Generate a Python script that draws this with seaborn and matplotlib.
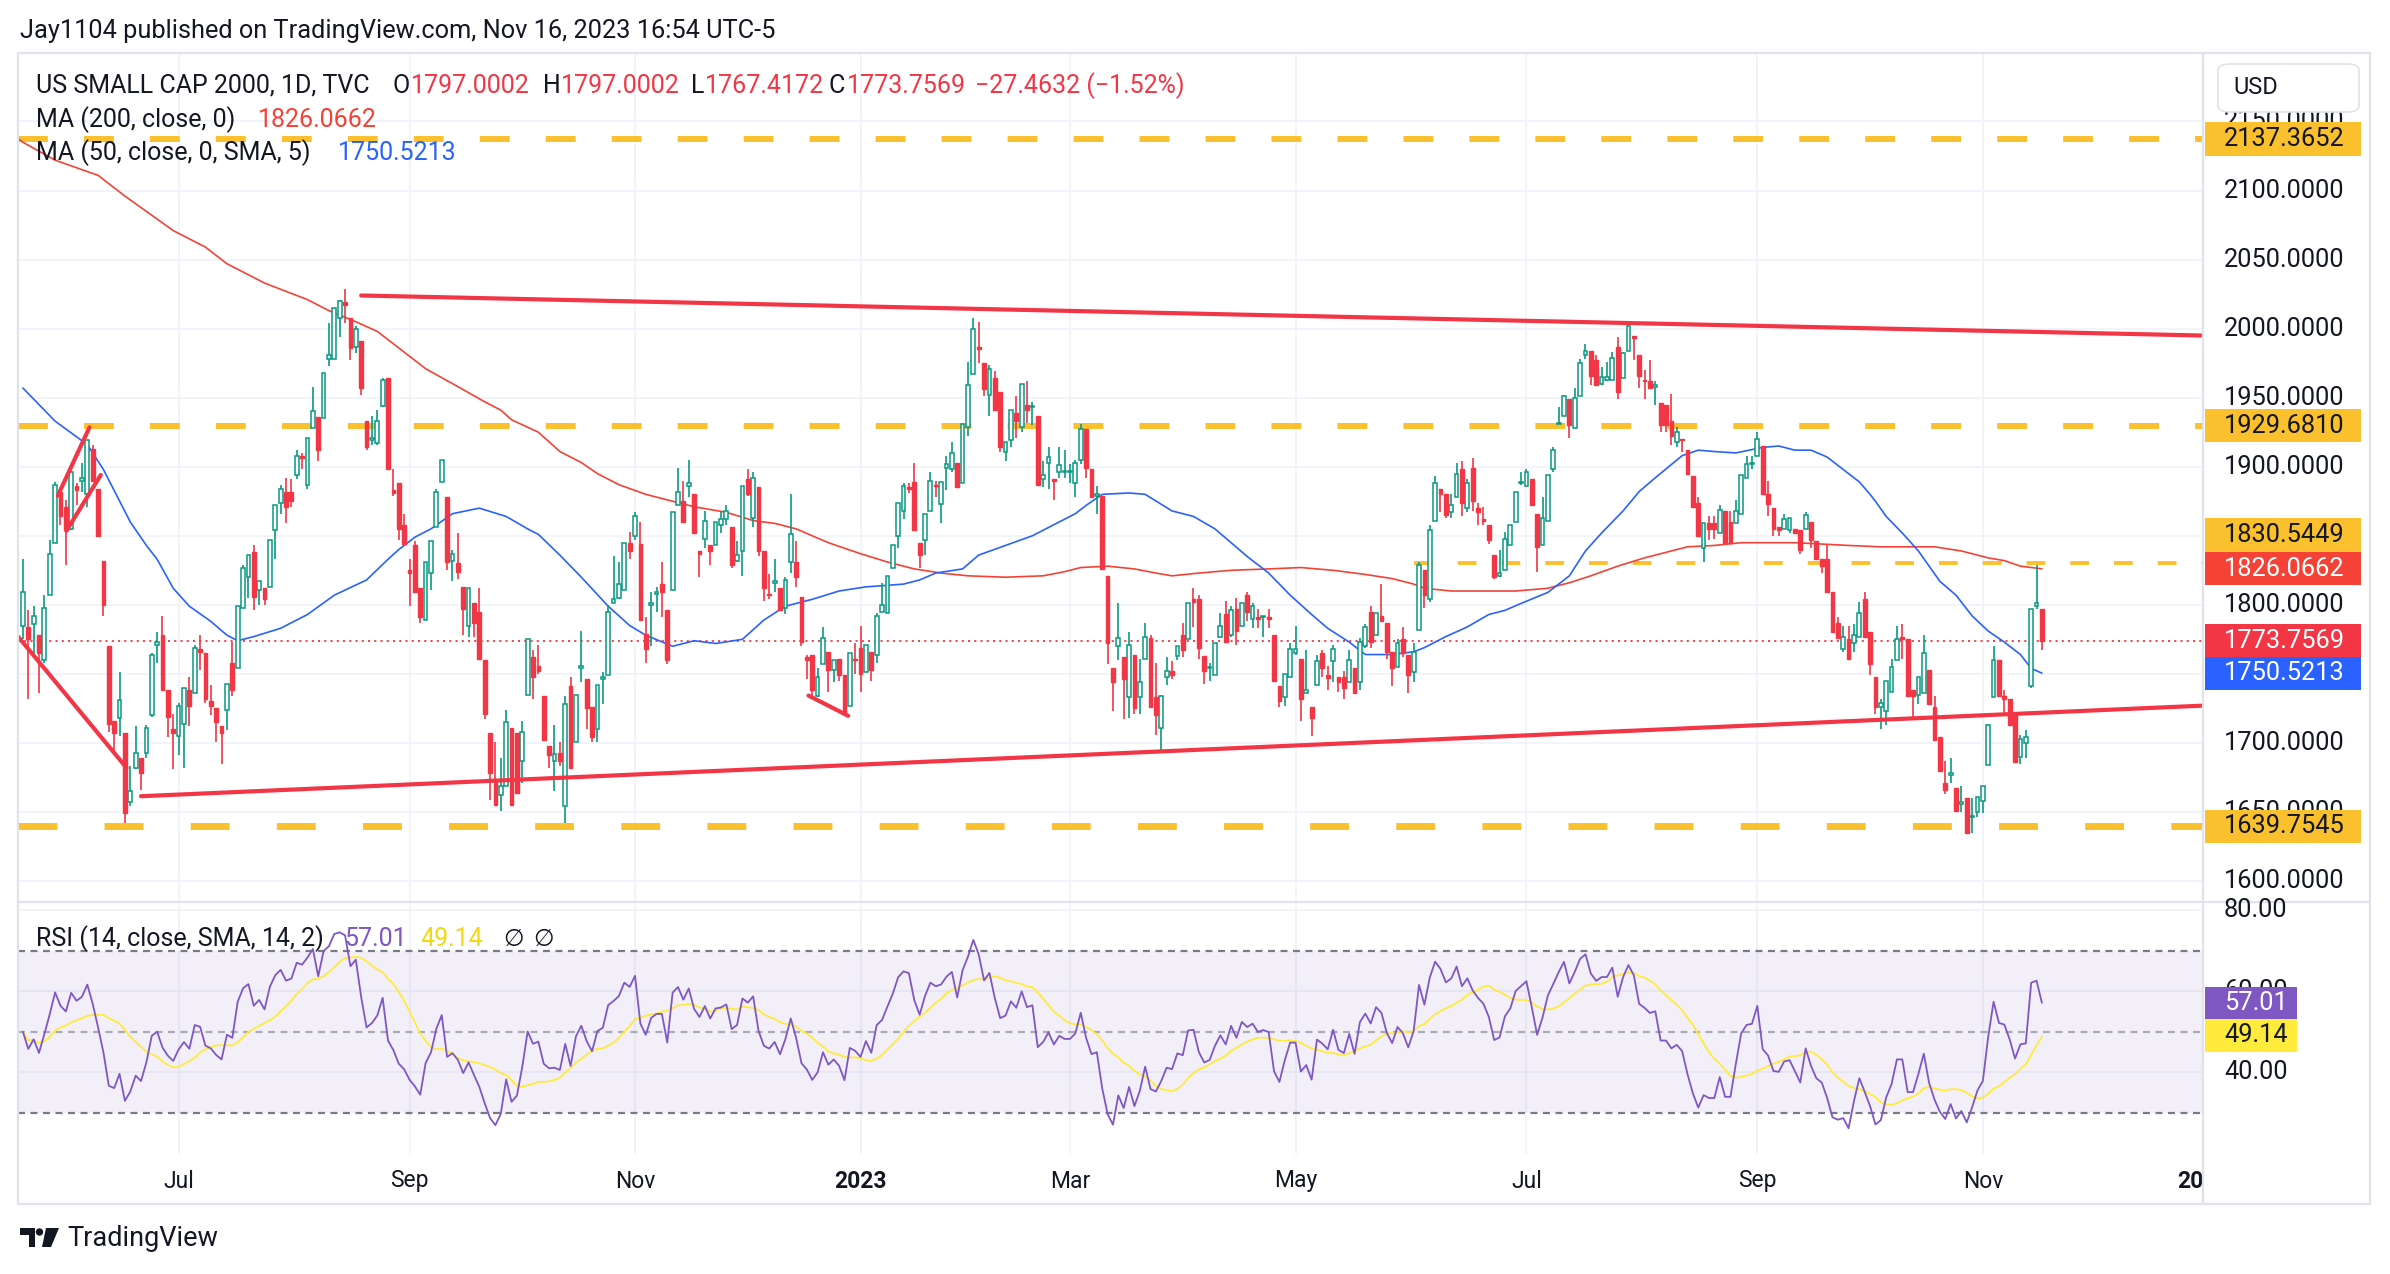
import numpy as np
import pandas as pd
import seaborn as sns
import matplotlib.pyplot as plt
import matplotlib.transforms as mtransforms
from matplotlib.patches import Rectangle, FancyBboxPatch, Polygon, Ellipse
from matplotlib.lines import Line2D

# ---- daily candles, US SMALL CAP 2000 (TVC) ----
OPEN = [
    1785, 1784, 1786, 1778, 1760, 1807, 1845, 1882, 1871, 1855,
    1886, 1890, 1880, 1913, 1884, 1832, 1770, 1716, 1718, 1707,
    1657, 1682, 1689, 1693, 1720, 1771, 1778, 1738, 1710, 1705,
    1714, 1738, 1736, 1768, 1765, 1730, 1725, 1712, 1724, 1758,
    1754, 1798, 1820, 1838, 1811, 1812, 1813, 1854, 1874, 1882,
    1882, 1894, 1908, 1887, 1928, 1936, 1935, 1978, 1978, 2008,
    2019, 2008, 1987, 1991, 1933, 1919, 1917, 1944, 1964, 1883,
    1888, 1858, 1825, 1843, 1812, 1789, 1823, 1856, 1889, 1878,
    1832, 1830, 1813, 1785, 1801, 1795, 1760, 1707, 1673, 1662,
    1669, 1711, 1707, 1687, 1735, 1762, 1756, 1734, 1698, 1687,
    1693, 1654, 1741, 1701, 1754, 1746, 1726, 1710, 1746, 1749,
    1801, 1805, 1811, 1845, 1850, 1844, 1779, 1800, 1808, 1815,
    1796, 1811, 1872, 1875, 1886, 1880, 1839, 1848, 1843, 1843,
    1858, 1862, 1856, 1832, 1839, 1891, 1863, 1885, 1839, 1808,
    1816, 1812, 1798, 1831, 1831, 1806, 1762, 1764, 1734, 1757,
    1766, 1753, 1761, 1749, 1727, 1761, 1769, 1751, 1766, 1764,
    1795, 1794, 1827, 1850, 1868, 1885, 1889, 1845, 1847, 1868,
    1887, 1873, 1899, 1898, 1903, 1888, 1929, 1967, 1987, 1975,
    1952, 1964, 1954, 1911, 1919, 1939, 1929, 1945, 1943, 1937,
    1891, 1903, 1891, 1896, 1896, 1896, 1888, 1905, 1927, 1898,
    1879, 1879, 1821, 1754, 1770, 1762, 1733, 1764, 1733, 1761,
    1776, 1733, 1711, 1748, 1752, 1763, 1778, 1775, 1804, 1804,
    1763, 1754, 1749, 1777, 1793, 1778, 1797, 1785, 1807, 1790,
    1791, 1791, 1791, 1778, 1741, 1733, 1748, 1765, 1761, 1736,
    1726, 1742, 1765, 1749, 1759, 1748, 1748, 1744, 1754, 1744,
    1770, 1795, 1778, 1792, 1787, 1766, 1755, 1775, 1764, 1751,
    1782, 1825, 1804, 1861, 1884, 1880, 1867, 1878, 1898, 1870,
    1899, 1870, 1862, 1858, 1836, 1821, 1825, 1843, 1860, 1888,
    1886, 1891, 1866, 1843, 1861, 1898, 1931, 1937, 1949, 1928,
    1951, 1981, 1984, 1977, 1960, 1963, 1963, 1987, 1964, 1984,
    1995, 1981, 1963, 1962, 1958, 1946, 1945, 1933, 1918, 1920,
    1912, 1893, 1874, 1841, 1859, 1859, 1852, 1868, 1860, 1859,
    1866, 1892, 1902, 1908, 1915, 1880, 1870, 1856, 1855, 1854,
    1855, 1854, 1855, 1860, 1846, 1833, 1833, 1809, 1787, 1768,
    1775, 1772, 1777, 1804, 1780, 1748, 1726, 1723, 1737, 1760,
    1777, 1775, 1738, 1735, 1736, 1753, 1726, 1704, 1671, 1677,
    1667, 1656, 1660, 1646, 1650, 1658, 1684, 1733, 1760, 1734,
    1732, 1722, 1690, 1700, 1741, 1799, 1797.0002,
]
HIGH = [
    1833, 1796, 1799, 1778, 1807, 1847, 1889, 1882, 1876, 1897,
    1888, 1903, 1919, 1916, 1884, 1832, 1770, 1716, 1751, 1707,
    1683, 1712, 1689, 1713, 1765, 1780, 1792, 1738, 1721, 1729,
    1740, 1748, 1771, 1778, 1765, 1742, 1725, 1712, 1743, 1773,
    1799, 1829, 1836, 1843, 1817, 1812, 1847, 1872, 1887, 1892,
    1891, 1912, 1910, 1921, 1958, 1936, 1968, 2004, 2015, 2021,
    2029, 2008, 2002, 1991, 1933, 1937, 1941, 1964, 1964, 1898,
    1888, 1866, 1833, 1846, 1812, 1831, 1846, 1884, 1905, 1878,
    1840, 1852, 1813, 1812, 1801, 1812, 1760, 1707, 1701, 1689,
    1724, 1711, 1707, 1716, 1775, 1767, 1771, 1734, 1698, 1713,
    1701, 1734, 1748, 1735, 1781, 1746, 1726, 1742, 1751, 1800,
    1835, 1831, 1845, 1853, 1867, 1860, 1791, 1809, 1813, 1831,
    1796, 1867, 1899, 1890, 1905, 1880, 1839, 1868, 1843, 1860,
    1868, 1872, 1856, 1846, 1886, 1898, 1896, 1885, 1839, 1822,
    1833, 1812, 1820, 1880, 1846, 1806, 1764, 1764, 1754, 1784,
    1766, 1760, 1761, 1749, 1765, 1772, 1785, 1771, 1766, 1794,
    1816, 1821, 1843, 1874, 1888, 1888, 1903, 1845, 1866, 1896,
    1890, 1889, 1908, 1918, 1903, 1931, 1976, 2008, 2005, 1975,
    1974, 1969, 1954, 1918, 1941, 1951, 1960, 1962, 1947, 1937,
    1904, 1914, 1891, 1914, 1912, 1902, 1905, 1931, 1927, 1898,
    1886, 1879, 1821, 1754, 1801, 1762, 1780, 1764, 1761, 1787,
    1778, 1758, 1735, 1762, 1759, 1770, 1787, 1801, 1812, 1807,
    1763, 1758, 1772, 1794, 1803, 1799, 1805, 1801, 1809, 1801,
    1797, 1792, 1797, 1778, 1741, 1750, 1772, 1785, 1761, 1767,
    1726, 1764, 1767, 1756, 1771, 1748, 1752, 1767, 1754, 1776,
    1786, 1799, 1794, 1815, 1787, 1766, 1775, 1784, 1764, 1772,
    1831, 1825, 1858, 1893, 1884, 1880, 1880, 1903, 1904, 1891,
    1906, 1874, 1871, 1858, 1836, 1840, 1853, 1858, 1882, 1896,
    1898, 1891, 1866, 1878, 1894, 1914, 1943, 1952, 1949, 1957,
    1978, 1989, 1984, 1981, 1972, 1976, 1983, 1994, 1983, 2003,
    1995, 1981, 1970, 1977, 1962, 1946, 1945, 1953, 1929, 1920,
    1912, 1893, 1878, 1859, 1864, 1864, 1872, 1868, 1868, 1876,
    1894, 1908, 1908, 1925, 1915, 1890, 1870, 1856, 1866, 1863,
    1855, 1854, 1867, 1860, 1846, 1833, 1843, 1809, 1791, 1785,
    1785, 1786, 1802, 1809, 1780, 1748, 1732, 1745, 1761, 1785,
    1786, 1775, 1738, 1748, 1778, 1753, 1734, 1704, 1687, 1689,
    1667, 1669, 1660, 1660, 1661, 1669, 1714, 1770, 1760, 1738,
    1732, 1722, 1706, 1709, 1797, 1829, 1797.0002,
]
LOW = [
    1775, 1732, 1764, 1736, 1758, 1807, 1845, 1858, 1829, 1854,
    1872, 1882, 1871, 1890, 1850, 1792, 1708, 1693, 1705, 1642,
    1654, 1681, 1666, 1689, 1719, 1758, 1738, 1704, 1681, 1691,
    1682, 1712, 1736, 1753, 1729, 1720, 1701, 1685, 1709, 1734,
    1754, 1798, 1805, 1796, 1800, 1800, 1813, 1833, 1866, 1859,
    1871, 1891, 1898, 1884, 1928, 1904, 1935, 1973, 1978, 1994,
    2004, 1977, 1982, 1952, 1912, 1916, 1916, 1943, 1898, 1879,
    1847, 1844, 1799, 1809, 1787, 1789, 1811, 1856, 1889, 1825,
    1817, 1819, 1778, 1777, 1777, 1761, 1717, 1659, 1654, 1651,
    1669, 1655, 1664, 1671, 1735, 1732, 1750, 1702, 1682, 1665,
    1683, 1642, 1682, 1701, 1744, 1710, 1701, 1701, 1728, 1749,
    1801, 1804, 1811, 1833, 1847, 1789, 1758, 1770, 1795, 1791,
    1757, 1811, 1872, 1860, 1878, 1852, 1820, 1841, 1829, 1843,
    1852, 1858, 1827, 1831, 1821, 1879, 1856, 1835, 1803, 1804,
    1809, 1796, 1793, 1823, 1813, 1770, 1746, 1734, 1733, 1757,
    1737, 1744, 1745, 1722, 1727, 1750, 1737, 1751, 1745, 1758,
    1795, 1794, 1827, 1841, 1862, 1881, 1854, 1827, 1836, 1868,
    1878, 1859, 1883, 1896, 1885, 1888, 1922, 1967, 1975, 1951,
    1937, 1941, 1911, 1904, 1914, 1921, 1925, 1932, 1930, 1887,
    1885, 1884, 1876, 1892, 1892, 1888, 1878, 1902, 1892, 1878,
    1866, 1826, 1757, 1723, 1760, 1717, 1718, 1721, 1721, 1761,
    1726, 1706, 1695, 1742, 1746, 1760, 1762, 1775, 1784, 1761,
    1743, 1745, 1749, 1776, 1773, 1777, 1771, 1785, 1788, 1783,
    1783, 1777, 1783, 1745, 1726, 1727, 1748, 1764, 1716, 1736,
    1705, 1742, 1748, 1738, 1744, 1737, 1732, 1744, 1736, 1738,
    1769, 1769, 1778, 1788, 1761, 1741, 1755, 1762, 1736, 1744,
    1782, 1798, 1802, 1861, 1867, 1863, 1863, 1878, 1864, 1867,
    1868, 1858, 1858, 1844, 1819, 1820, 1825, 1843, 1860, 1887,
    1886, 1872, 1824, 1843, 1861, 1896, 1931, 1937, 1921, 1928,
    1951, 1978, 1959, 1959, 1959, 1962, 1963, 1949, 1964, 1984,
    1977, 1957, 1949, 1956, 1945, 1925, 1925, 1916, 1914, 1911,
    1895, 1871, 1850, 1831, 1847, 1848, 1852, 1845, 1845, 1859,
    1866, 1892, 1898, 1908, 1880, 1864, 1850, 1850, 1855, 1852,
    1852, 1837, 1855, 1841, 1833, 1823, 1809, 1780, 1775, 1766,
    1761, 1766, 1777, 1777, 1749, 1721, 1710, 1713, 1737, 1760,
    1761, 1734, 1717, 1728, 1736, 1728, 1702, 1680, 1663, 1671,
    1650, 1650, 1634, 1635, 1646, 1649, 1684, 1733, 1734, 1722,
    1713, 1686, 1685, 1689, 1740, 1797, 1767.4172,
]
CLOSE = [
    1809, 1775, 1792, 1765, 1798, 1837, 1887, 1864, 1854, 1896,
    1883, 1892, 1919, 1890, 1850, 1800, 1714, 1707, 1731, 1649,
    1665, 1693, 1678, 1711, 1764, 1773, 1738, 1719, 1707, 1727,
    1740, 1727, 1769, 1766, 1732, 1727, 1715, 1707, 1743, 1738,
    1799, 1827, 1836, 1806, 1817, 1804, 1847, 1872, 1884, 1871,
    1875, 1908, 1906, 1921, 1940, 1912, 1968, 1981, 2015, 2020,
    2017, 1986, 2000, 1957, 1914, 1921, 1933, 1963, 1898, 1881,
    1855, 1844, 1823, 1809, 1791, 1831, 1846, 1882, 1905, 1831,
    1837, 1824, 1797, 1812, 1787, 1761, 1721, 1678, 1655, 1669,
    1715, 1655, 1664, 1708, 1775, 1748, 1752, 1702, 1691, 1692,
    1687, 1728, 1682, 1735, 1756, 1725, 1704, 1742, 1748, 1795,
    1804, 1815, 1845, 1839, 1864, 1789, 1768, 1801, 1809, 1809,
    1760, 1867, 1882, 1860, 1888, 1852, 1837, 1861, 1839, 1860,
    1862, 1868, 1829, 1836, 1886, 1880, 1892, 1839, 1812, 1807,
    1817, 1796, 1818, 1851, 1820, 1773, 1760, 1738, 1748, 1776,
    1753, 1760, 1749, 1722, 1765, 1760, 1750, 1771, 1753, 1792,
    1800, 1821, 1843, 1874, 1886, 1884, 1854, 1836, 1866, 1890,
    1886, 1889, 1902, 1910, 1885, 1931, 1959, 2000, 1985, 1956,
    1971, 1941, 1914, 1918, 1941, 1933, 1960, 1941, 1944, 1887,
    1894, 1907, 1890, 1901, 1897, 1897, 1903, 1927, 1899, 1878,
    1880, 1826, 1772, 1744, 1776, 1746, 1771, 1725, 1744, 1777,
    1726, 1720, 1734, 1752, 1749, 1770, 1767, 1801, 1802, 1769,
    1752, 1755, 1772, 1785, 1773, 1796, 1781, 1801, 1795, 1799,
    1790, 1792, 1790, 1745, 1730, 1750, 1768, 1768, 1732, 1738,
    1718, 1759, 1754, 1747, 1768, 1744, 1740, 1760, 1736, 1773,
    1784, 1773, 1794, 1788, 1766, 1754, 1772, 1765, 1749, 1766,
    1829, 1807, 1854, 1888, 1880, 1865, 1872, 1895, 1874, 1888,
    1875, 1867, 1861, 1847, 1820, 1823, 1848, 1858, 1882, 1889,
    1896, 1872, 1842, 1863, 1894, 1912, 1932, 1951, 1930, 1950,
    1975, 1984, 1966, 1959, 1965, 1965, 1979, 1954, 1982, 2002,
    1993, 1966, 1962, 1957, 1959, 1930, 1930, 1922, 1925, 1919,
    1895, 1871, 1850, 1859, 1855, 1855, 1869, 1845, 1845, 1868,
    1894, 1902, 1903, 1920, 1880, 1873, 1855, 1854, 1862, 1863,
    1852, 1840, 1865, 1847, 1833, 1828, 1809, 1780, 1776, 1777,
    1761, 1778, 1794, 1777, 1757, 1726, 1729, 1745, 1755, 1775,
    1775, 1734, 1734, 1748, 1765, 1728, 1702, 1680, 1666, 1678,
    1651, 1657, 1635, 1647, 1661, 1669, 1713, 1760, 1734, 1732,
    1713, 1686, 1703, 1704, 1797, 1801.2201, 1773.7569,
]
LAST_DATE = "2023-11-16"
HOLIDAYS = ["2022-05-30", "2022-06-20", "2022-07-04", "2022-09-05", "2022-11-24",
            "2022-12-26", "2023-01-02", "2023-01-16", "2023-02-20", "2023-04-07",
            "2023-05-29", "2023-06-19", "2023-07-04", "2023-09-04", "2023-11-23",
            "2023-12-25", "2024-01-01"]

# moving averages as plotted (bar index, value)
MA200_IDX = [-1, 0, 6, 14, 19, 28, 34, 38, 45, 53, 57, 62, 66, 70, 75, 81, 86, 89, 91, 96,
             100, 104, 107, 111, 116, 120, 125, 131, 136, 140, 144, 150, 156, 161, 166, 171,
             176, 183, 190, 194, 197, 202, 207, 211, 214, 219, 225, 232, 238, 244, 250, 255,
             259, 261, 266, 271, 278, 284, 288, 292, 297, 302, 307, 310, 315, 320, 325, 330,
             335, 340, 346, 351, 356, 361, 366, 369, 372, 376]
MA200_VAL = [2138, 2135, 2122, 2111, 2096, 2071, 2059, 2047, 2033, 2021, 2013, 2005, 1998, 1986,
             1971, 1958, 1947, 1941, 1934, 1925, 1911, 1903, 1895, 1887, 1880, 1876, 1871, 1867,
             1861, 1859, 1855, 1845, 1837, 1831, 1826, 1823, 1821, 1820, 1821, 1824, 1827, 1828,
             1826, 1823, 1821, 1823, 1825, 1826, 1827, 1825, 1822, 1819, 1815, 1812, 1810, 1810,
             1810, 1812, 1816, 1821, 1828, 1834, 1839, 1842, 1843, 1845, 1845, 1845, 1844, 1843,
             1842, 1842, 1842, 1839, 1834, 1832, 1828, 1826.0662]
MA50_IDX = [0, 6, 12, 15, 20, 23, 25, 28, 31, 35, 38, 40, 43, 48, 53, 58, 64, 68, 70, 73, 76,
            80, 85, 90, 94, 96, 100, 104, 109, 113, 116, 121, 125, 129, 134, 136, 138, 142, 147,
            152, 157, 164, 167, 170, 175, 178, 183, 188, 191, 196, 198, 201, 206, 209, 214, 218,
            222, 225, 228, 232, 236, 240, 243, 247, 250, 255, 259, 261, 265, 269, 273, 276, 279,
            284, 288, 291, 294, 298, 301, 304, 309, 312, 315, 319, 324, 327, 330, 333, 336, 339,
            342, 344, 345, 347, 350, 353, 357, 360, 363, 366, 369, 372, 374, 376]
MA50_VAL = [1957, 1933, 1916, 1898, 1860, 1843, 1833, 1812, 1799, 1788, 1778, 1774, 1777, 1783,
            1793, 1807, 1818, 1833, 1840, 1849, 1855, 1866, 1870, 1864, 1855, 1851, 1836, 1820,
            1799, 1785, 1778, 1770, 1774, 1772, 1775, 1782, 1789, 1799, 1804, 1810, 1813, 1815,
            1818, 1823, 1826, 1836, 1843, 1850, 1856, 1866, 1872, 1880, 1881, 1880, 1868, 1864,
            1855, 1845, 1835, 1823, 1807, 1793, 1783, 1773, 1764, 1764, 1766, 1769, 1777, 1784,
            1793, 1796, 1801, 1809, 1821, 1839, 1852, 1868, 1882, 1892, 1908, 1912, 1911, 1910,
            1914, 1915, 1912, 1912, 1907, 1898, 1889, 1880, 1875, 1864, 1852, 1839, 1817, 1807,
            1792, 1781, 1773, 1764, 1754, 1750.5213]

# drawings: trend lines ((bar, price), (bar, price)) and horizontal levels (price, first bar)
TRENDLINES = [((63, 2024), (406, 1995)), ((22, 1661.4), (406, 1727)),
              ((-0.9, 1777), (19.3, 1682)), ((6.5, 1879), (12.4, 1928.5)),
              ((8.1, 1853.5), (14.5, 1894)), ((146.3, 1734.3), (153.7, 1719.6))]
LEVELS = [(2137.3652, None), (1929.6810, None), (1830.5449, 259), (1639.7545, None)]
RSI_LAST, RSI_MA_LAST = 57.01, 49.14

W, H = 2390, 1274
GREEN, RED = "#089981", "#f23645"
DARK, BORDER, GRID = "#131722", "#e0e3eb", "#f0f3fa"
YELLOW = "#fbc02d"

assert len(OPEN) == len(HIGH) == len(LOW) == len(CLOSE)
n = len(CLOSE)
o, hi, lo, c = (np.array(a, dtype=float) for a in (OPEN, HIGH, LOW, CLOSE))
x = np.arange(n)

all_days = pd.bdate_range("2022-05-01", "2024-02-28", freq="C", holidays=HOLIDAYS)
end = all_days.get_loc(pd.Timestamp(LAST_DATE))
days = all_days[end - n + 1:]
pos = pd.Series(np.arange(len(days)), index=days)
firsts = pos.groupby([days.year, days.month]).first()
ticks = [(p, yy, mm) for (yy, mm), p in firsts.items() if mm % 2 == 1 and p > 0]

# RSI(14) with its 14-bar SMA
delta = pd.Series(c).diff()
gain, loss = delta.clip(lower=0), (-delta).clip(lower=0)
seed = delta.abs().iloc[1:15].mean() / 2
gain.iloc[0] = seed
loss.iloc[0] = seed
ag = gain.ewm(alpha=1 / 14, adjust=False).mean()
al = loss.ewm(alpha=1 / 14, adjust=False).mean()
rsi = 100 - 100 / (1 + ag / al)
rsi_ma = rsi.rolling(14, min_periods=1).mean()

sns.set_theme(style="white")
plt.rcParams["font.family"] = ["Roboto", "DejaVu Sans"]
plt.rcParams["lines.scale_dashes"] = False

fig = plt.figure(figsize=(W / 100, H / 100), dpi=100)
fig.patch.set_facecolor("white")


def fx(px):
    return px / W


def fy(py):
    return 1 - py / H


L, R = 18, 2203
ax = fig.add_axes([fx(L), fy(902), fx(R) - fx(L), fy(53) - fy(902)])
rax = fig.add_axes([fx(L), fy(1154), fx(R) - fx(L), fy(902) - fy(1154)])
tax = fig.add_axes([fx(L), fy(1204), fx(R) - fx(L), fy(1154) - fy(1204)])
XLIM = (-0.91, 406)
for a in (ax, rax, tax):
    a.set_xlim(*XLIM)
    a.set_axis_off()
ax.set_ylim(1584.8, 2199.6)
rax.set_ylim(19.8, 82)
tax.set_ylim(0, 1)

# grids
for p in range(1600, 2151, 50):
    ax.axhline(p, color=GRID, lw=1.3, zorder=0)
for v in (40, 60, 80):
    rax.axhline(v, color=GRID, lw=1.3, zorder=0)
for p, _, _ in ticks:
    ax.axvline(p, color=GRID, lw=1.3, zorder=0)
    rax.axvline(p, color=GRID, lw=1.3, zorder=0)

# horizontal levels
for lvl, start in LEVELS:
    x0 = XLIM[0] if start is None else start
    if lvl < 1700:
        lw, dash = 5.0, (28, 34)
    elif start is not None:
        lw, dash = 2.8, (13.5, 18)
    else:
        lw, dash = 4.3, (21.5, 26)
    ax.plot([x0, XLIM[1]], [lvl, lvl], color=YELLOW, lw=lw, dashes=dash,
            solid_capstyle="butt", dash_capstyle="butt", zorder=1)

# last price line
ax.plot(XLIM, [c[-1], c[-1]], color=RED, lw=1.3, dashes=(1.5, 3), zorder=1)

# moving averages
sns.lineplot(x=MA200_IDX, y=MA200_VAL, ax=ax, color="#f44336", lw=1.2, zorder=2, estimator=None)
sns.lineplot(x=MA50_IDX, y=MA50_VAL, ax=ax, color="#2962ff", lw=1.2, zorder=2, estimator=None)

# candles
up = c >= o
cols = np.where(up, GREEN, RED)
ax.vlines(x, lo, hi, colors=cols, lw=1.2, zorder=3)
ax.bar(x[up], np.maximum(c - o, 0.4)[up], bottom=o[up], width=0.7, facecolor="white",
       edgecolor=GREEN, linewidth=1.1, zorder=4)
ax.bar(x[~up], np.maximum(o - c, 0.8)[~up], bottom=c[~up], width=0.7, facecolor=RED,
       edgecolor=RED, linewidth=1.0, zorder=4)

# trend lines
for (i1, p1), (i2, p2) in TRENDLINES:
    ax.plot([i1, i2], [p1, p2], color=RED, lw=3.0, solid_capstyle="round", zorder=5)

# RSI pane
rax.axhspan(30, 70, color="#7e57c2", alpha=0.09, lw=0, zorder=0)
for v, col in ((70, "#787b86"), (50, "#a8abb5"), (30, "#787b86")):
    rax.plot(XLIM, [v, v], color=col, lw=1.6, dashes=(5, 4), zorder=1)
sns.lineplot(x=x, y=rsi.values, ax=rax, color="#7e57c2", lw=1.3, zorder=3, estimator=None)
sns.lineplot(x=x, y=rsi_ma.values, ax=rax, color="#ffeb3b", lw=1.3, zorder=2, estimator=None)

# time axis
for p, yy, mm in ticks:
    lab = str(yy) if mm == 1 else pd.Timestamp(year=yy, month=mm, day=1).strftime("%b")
    tax.text(p, 0.46, lab, ha="center", va="center", fontsize=16.5, color=DARK,
             fontweight="bold" if mm == 1 else "normal", clip_on=True)

# price axis labels and tags
ptr = mtransforms.blended_transform_factory(fig.transFigure, ax.transData)
rtr = mtransforms.blended_transform_factory(fig.transFigure, rax.transData)
AXFS = 18.3
for p in range(1600, 2151, 50):
    fig.text(fx(2224), p, f"{p}.0000", transform=ptr, fontsize=AXFS, color=DARK, va="center")
for v in (40, 60, 80):
    fig.text(fx(2224), v, f"{v}.00", transform=rtr, fontsize=AXFS, color=DARK, va="center")


def tag(tr, val, text, fc, tc, half, right=2361):
    fig.add_artist(Rectangle((fx(2205), val - half), fx(right) - fx(2205), 2 * half,
                             transform=tr, facecolor=fc, edgecolor="none", zorder=5))
    fig.text(fx(2224), val, text, transform=tr, fontsize=AXFS, color=tc, va="center", zorder=6)


half_p = 12.0
for lvl, start in LEVELS:
    # the 1830 tag sits above the MA200 tag so both stay readable
    shown = lvl + 20 if start is not None else lvl
    tag(ptr, shown, f"{lvl:.4f}", YELLOW, DARK, half_p)
tag(ptr, MA200_VAL[-1], f"{MA200_VAL[-1]:.4f}", "#f44336", "white", half_p)
tag(ptr, c[-1], f"{c[-1]:.4f}", RED, "white", half_p)
tag(ptr, MA50_VAL[-1], f"{MA50_VAL[-1]:.4f}", "#2962ff", "white", half_p)
tag(rtr, RSI_LAST, f"{RSI_LAST:.2f}", "#7e57c2", "white", 4.1, right=2297)
tag(rtr, RSI_MA_LAST, f"{RSI_MA_LAST:.2f}", "#ffeb3b", DARK, 4.1, right=2297)

fig.add_artist(FancyBboxPatch((fx(2218), fy(112)), fx(2359) - fx(2218), fy(64) - fy(112),
                              boxstyle="round,pad=0,rounding_size=0.005", transform=fig.transFigure,
                              facecolor="white", edgecolor=BORDER, lw=1.2, zorder=7))
fig.text(fx(2233), fy(88), "USD", fontsize=17, color=DARK, va="center", zorder=8)

# frame
for xs, ys in (((L, 2370), (53, 53)), ((L, 2370), (1204, 1204)), ((L, L), (53, 1204)),
               ((2370, 2370), (53, 1204)), ((R, R), (53, 1204)), ((L, 2370), (902, 902))):
    fig.add_artist(Line2D([fx(v) for v in xs], [fy(v) for v in ys], color=BORDER, lw=1.6,
                          transform=fig.transFigure))

# header and legends
fig.text(fx(20), fy(31), "Jay1104 published on TradingView.com, Nov 16, 2023 16:54 UTC-5",
         fontsize=18.3, color=DARK, va="center")
pieces = [("US SMALL CAP 2000, 1D, TVC", 36, DARK), ("O", 393, DARK), (f"{OPEN[-1]:.4f}", 411, RED),
          ("H", 543, DARK), (f"{HIGH[-1]:.4f}", 561, RED), ("L", 691, DARK),
          (f"{LOW[-1]:.4f}", 705, RED), ("C", 829, DARK), (f"{CLOSE[-1]:.4f}", 847, RED),
          ("\u221227.4632 (\u22121.52%)", 975, RED)]
for txt, px, col in pieces:
    fig.text(fx(px), fy(86), txt, fontsize=18, color=col, va="center")
fig.text(fx(36), fy(120), "MA (200, close, 0)", fontsize=18, color=DARK, va="center")
fig.text(fx(258), fy(120), f"{MA200_VAL[-1]:.4f}", fontsize=18, color="#f44336", va="center")
fig.text(fx(36), fy(153), "MA (50, close, 0, SMA, 5)", fontsize=18, color=DARK, va="center")
fig.text(fx(338), fy(153), f"{MA50_VAL[-1]:.4f}", fontsize=18, color="#2962ff", va="center")
fig.text(fx(36), fy(939), "RSI (14, close, SMA, 14, 2)", fontsize=18, color=DARK, va="center")
fig.text(fx(344), fy(939), f"{RSI_LAST:.2f}", fontsize=18, color="#7e57c2", va="center")
fig.text(fx(420), fy(939), f"{RSI_MA_LAST:.2f}", fontsize=18, color="#f2d813", va="center")
fig.text(fx(503), fy(939), "\u2205", fontsize=17, color=DARK, va="center")
fig.text(fx(533), fy(939), "\u2205", fontsize=17, color=DARK, va="center")

# footer logo
for patch in (Polygon([(fx(20), fy(1228)), (fx(35), fy(1228)), (fx(35), fy(1247)),
                       (fx(28.5), fy(1247)), (fx(28.5), fy(1235)), (fx(20), fy(1235))]),
              Ellipse((fx(39.5), fy(1232)), 7.4 / W, 7.4 / H),
              Polygon([(fx(46), fy(1228)), (fx(59), fy(1228)), (fx(51), fy(1247)),
                       (fx(42), fy(1247))])):
    patch.set_facecolor(DARK)
    patch.set_edgecolor("none")
    patch.set_transform(fig.transFigure)
    fig.add_artist(patch)
fig.text(fx(67), fy(1239), "TradingView", fontsize=19.5, color=DARK, va="center")

fig.savefig("out.png", dpi=100)
